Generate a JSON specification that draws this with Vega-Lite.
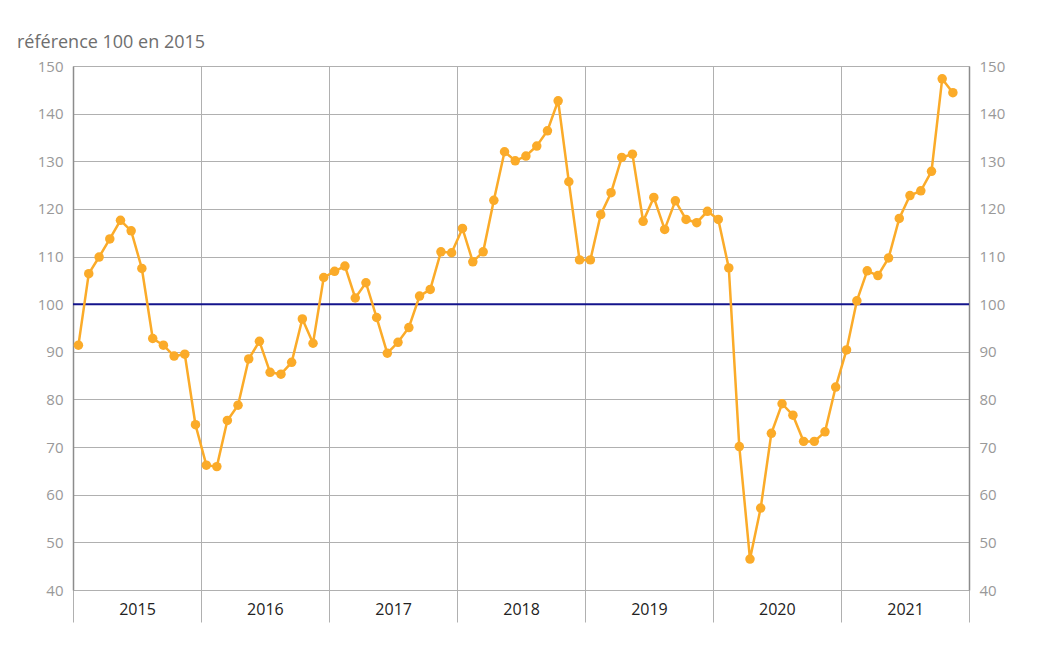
{
  "$schema": "https://vega.github.io/schema/vega-lite/v6.json",
  "width": 896,
  "height": 524,
  "autosize": {"type": "none"},
  "padding": {"left": 73, "top": 66, "right": 68, "bottom": 76},
  "background": "white",
  "config": {
    "font": "Open Sans",
    "view": {"stroke": null},
    "title": {"font": "Open Sans", "fontWeight": "normal", "fontSize": 18, "color": "#6e6e6e", "anchor": "start", "frame": "group", "dx": -56, "offset": 7}
  },
  "title": "référence 100 en 2015",
  "datasets": {
    "serie": [
      {"date": "2015-01", "v": 91.4}, {"date": "2015-02", "v": 106.4}, {"date": "2015-03", "v": 109.9}, {"date": "2015-04", "v": 113.7},
      {"date": "2015-05", "v": 117.6}, {"date": "2015-06", "v": 115.4}, {"date": "2015-07", "v": 107.5}, {"date": "2015-08", "v": 92.8},
      {"date": "2015-09", "v": 91.4}, {"date": "2015-10", "v": 89.1}, {"date": "2015-11", "v": 89.5}, {"date": "2015-12", "v": 74.7},
      {"date": "2016-01", "v": 66.2}, {"date": "2016-02", "v": 65.9}, {"date": "2016-03", "v": 75.6}, {"date": "2016-04", "v": 78.8},
      {"date": "2016-05", "v": 88.5}, {"date": "2016-06", "v": 92.2}, {"date": "2016-07", "v": 85.7}, {"date": "2016-08", "v": 85.3},
      {"date": "2016-09", "v": 87.8}, {"date": "2016-10", "v": 96.9}, {"date": "2016-11", "v": 91.8}, {"date": "2016-12", "v": 105.6},
      {"date": "2017-01", "v": 106.9}, {"date": "2017-02", "v": 108.0}, {"date": "2017-03", "v": 101.3}, {"date": "2017-04", "v": 104.5},
      {"date": "2017-05", "v": 97.2}, {"date": "2017-06", "v": 89.7}, {"date": "2017-07", "v": 92.0}, {"date": "2017-08", "v": 95.1},
      {"date": "2017-09", "v": 101.7}, {"date": "2017-10", "v": 103.1}, {"date": "2017-11", "v": 111.0}, {"date": "2017-12", "v": 110.8},
      {"date": "2018-01", "v": 115.9}, {"date": "2018-02", "v": 108.9}, {"date": "2018-03", "v": 111.0}, {"date": "2018-04", "v": 121.8},
      {"date": "2018-05", "v": 132.0}, {"date": "2018-06", "v": 130.1}, {"date": "2018-07", "v": 131.1}, {"date": "2018-08", "v": 133.2},
      {"date": "2018-09", "v": 136.4}, {"date": "2018-10", "v": 142.7}, {"date": "2018-11", "v": 125.7}, {"date": "2018-12", "v": 109.3},
      {"date": "2019-01", "v": 109.3}, {"date": "2019-02", "v": 118.8}, {"date": "2019-03", "v": 123.4}, {"date": "2019-04", "v": 130.8},
      {"date": "2019-05", "v": 131.5}, {"date": "2019-06", "v": 117.4}, {"date": "2019-07", "v": 122.4}, {"date": "2019-08", "v": 115.7},
      {"date": "2019-09", "v": 121.7}, {"date": "2019-10", "v": 117.8}, {"date": "2019-11", "v": 117.1}, {"date": "2019-12", "v": 119.5},
      {"date": "2020-01", "v": 117.8}, {"date": "2020-02", "v": 107.6}, {"date": "2020-03", "v": 70.1}, {"date": "2020-04", "v": 46.5},
      {"date": "2020-05", "v": 57.2}, {"date": "2020-06", "v": 72.9}, {"date": "2020-07", "v": 79.1}, {"date": "2020-08", "v": 76.7},
      {"date": "2020-09", "v": 71.2}, {"date": "2020-10", "v": 71.2}, {"date": "2020-11", "v": 73.2}, {"date": "2020-12", "v": 82.6},
      {"date": "2021-01", "v": 90.4}, {"date": "2021-02", "v": 100.7}, {"date": "2021-03", "v": 107.0}, {"date": "2021-04", "v": 106.0},
      {"date": "2021-05", "v": 109.7}, {"date": "2021-06", "v": 118.0}, {"date": "2021-07", "v": 122.8}, {"date": "2021-08", "v": 123.8},
      {"date": "2021-09", "v": 127.9}, {"date": "2021-10", "v": 147.3}, {"date": "2021-11", "v": 144.4}
    ],
    "ref": [{"r": 100}]
  },
  "layer": [
    {
      "data": {"name": "ref"},
      "mark": {"type": "rule", "color": "#14148c", "strokeWidth": 2},
      "encoding": {
        "y": {
          "field": "r", "type": "quantitative",
          "scale": {"domain": [40, 150], "nice": false, "zero": false},
          "axis": {
            "orient": "right", "title": null, "grid": false, "ticks": false, "tickSize": 0,
            "values": [40, 50, 60, 70, 80, 90, 100, 110, 120, 130, 140, 150],
            "labelFont": "Open Sans", "labelFontSize": 15, "labelColor": "#999999", "labelPadding": 10,
            "domainColor": "#8c8c8c", "domainWidth": 1.5
          }
        }
      }
    },
    {
      "data": {"name": "serie"},
      "mark": {"type": "line", "color": "#fbab29", "strokeWidth": 2.5, "point": {"filled": true, "size": 90, "color": "#fbab29"}},
      "encoding": {
        "x": {
          "field": "date", "type": "temporal", "timeUnit": {"unit": "yearmonth", "utc": true}, "bandPosition": 0.5,
          "scale": {"type": "utc", "domain": [{"year": 2015, "month": 1, "date": 1, "utc": true}, {"year": 2022, "month": 1, "date": 1, "utc": true}]},
          "axis": {
            "title": null,
            "values": [
              {"year": 2015, "month": 1, "date": 1, "utc": true}, {"year": 2016, "month": 1, "date": 1, "utc": true},
              {"year": 2017, "month": 1, "date": 1, "utc": true}, {"year": 2018, "month": 1, "date": 1, "utc": true},
              {"year": 2019, "month": 1, "date": 1, "utc": true}, {"year": 2020, "month": 1, "date": 1, "utc": true},
              {"year": 2021, "month": 1, "date": 1, "utc": true}, {"year": 2022, "month": 1, "date": 1, "utc": true}
            ],
            "labelExpr": "utcyear(datum.value) < 2022 ? '' + utcyear(datum.value) : ''",
            "grid": true, "gridColor": "#b0b0b0", "gridWidth": 1,
            "ticks": true, "tickSize": 32, "tickColor": "#b0b0b0", "tickWidth": 1,
            "domain": true, "domainColor": "#b0b0b0",
            "labelOffset": 64, "labelPadding": -21, "labelFlush": false, "labelOverlap": false, "labelBound": false,
            "labelFont": "Open Sans", "labelFontSize": 16, "labelColor": "#222222"
          }
        },
        "y": {
          "field": "v", "type": "quantitative",
          "scale": {"domain": [40, 150], "nice": false, "zero": false},
          "axis": {
            "orient": "left", "title": null, "grid": true, "gridColor": "#b0b0b0", "ticks": false, "tickSize": 0,
            "values": [40, 50, 60, 70, 80, 90, 100, 110, 120, 130, 140, 150],
            "labelFont": "Open Sans", "labelFontSize": 15, "labelColor": "#999999", "labelPadding": 10,
            "domainColor": "#8c8c8c", "domainWidth": 1.5
          }
        }
      }
    }
  ],
  "resolve": {"axis": {"y": "independent"}}
}
